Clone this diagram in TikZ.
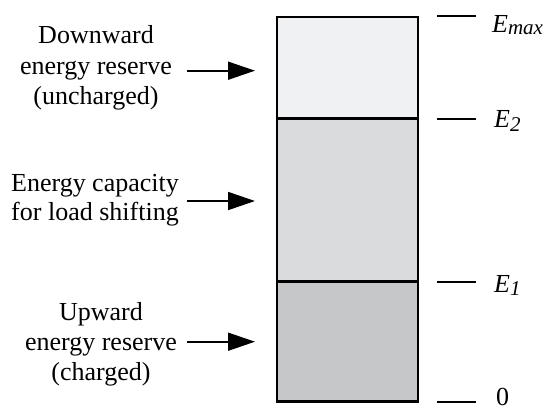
\documentclass[tikz,border=0pt]{standalone}
\usepackage{fontspec}
\setmainfont{LiberationSerif}[Extension=.ttf, UprightFont=*-Regular, ItalicFont=*-Italic, BoldFont=*-Bold, BoldItalicFont=*-BoldItalic]
\usetikzlibrary{arrows.meta}
\definecolor{topfill}{HTML}{F0F1F2}
\definecolor{midfill}{HTML}{DADBDD}
\definecolor{botfill}{HTML}{C6C7C9}
\newcommand\Elab[2]{\textit{E}\raisebox{-#2}{\fontsize{21}{21}\selectfont\textit{#1}}}
\tikzset{
  txt/.style={anchor=base, inner sep=0pt, font=\fontsize{26}{30}\selectfont},
  lab/.style={anchor=base west, inner sep=0pt, font=\fontsize{26}{30}\selectfont},
  arr/.style={line width=1.7pt, -{Triangle[length=27pt,width=18pt]}},
  tick/.style={line width=1.7pt},
  part/.style={draw=black, line width=2.2pt},
}
\begin{document}
\begin{tikzpicture}[x=1pt,y=-1pt]
\useasboundingbox (0,0) rectangle (552,405);
% storage column
\fill[topfill] (277,17) rectangle (418,118.5);
\fill[midfill] (277,118.5) rectangle (418,281.5);
\fill[botfill] (277,281.5) rectangle (418,401.5);
\draw[part] (277,118.5) -- (418,118.5);
\draw[part] (277,281.5) -- (418,281.5);
\draw[part] (277,17) rectangle (418,401.5);
% ticks
\coordinate (t4a) at (437,16);    \coordinate (t4b) at (476,16);
\coordinate (t3a) at (437,119);   \coordinate (t3b) at (476,119);
\coordinate (t2a) at (437,282);   \coordinate (t2b) at (476,282);
\coordinate (t1a) at (437,402);   \coordinate (t1b) at (476,402);
\draw[tick] (t4a) -- (t4b);
\draw[tick] (t3a) -- (t3b);
\draw[tick] (t2a) -- (t2b);
\draw[tick] (t1a) -- (t1b);
\node[lab] (lmax) at (492,32.5) {\Elab{max}{2pt}};
\node[lab] (l2) at (494,127) {\Elab{2}{4pt}};
\node[lab] (l1) at (494,292.5) {\Elab{1}{3pt}};
\node[lab] (l0) at (496,405) {0};
% left texts
\node[txt] (dw1) at (96,43.3) {Downward};
\node[txt] (dw2) at (96,74) {energy reserve};
\node[txt] (dw3) at (96,104) {(uncharged)};
\node[txt] (ec1) at (95,191.7) {Energy capacity};
\node[txt] (ec2) at (95,220) {for load shifting};
\node[txt] (up1) at (101,320) {Upward};
\node[txt] (up2) at (101,350) {energy reserve};
\node[txt] (up3) at (101,380) {(charged)};
% arrows
\coordinate (a1s) at (187,70.7);  \coordinate (a1e) at (255,70.7);
\coordinate (a2s) at (187,201);   \coordinate (a2e) at (255,201);
\coordinate (a3s) at (187,341.7); \coordinate (a3e) at (255,341.7);
\draw[arr] (a1s) -- (a1e);
\draw[arr] (a2s) -- (a2e);
\draw[arr] (a3s) -- (a3e);
\end{tikzpicture}
\end{document}
